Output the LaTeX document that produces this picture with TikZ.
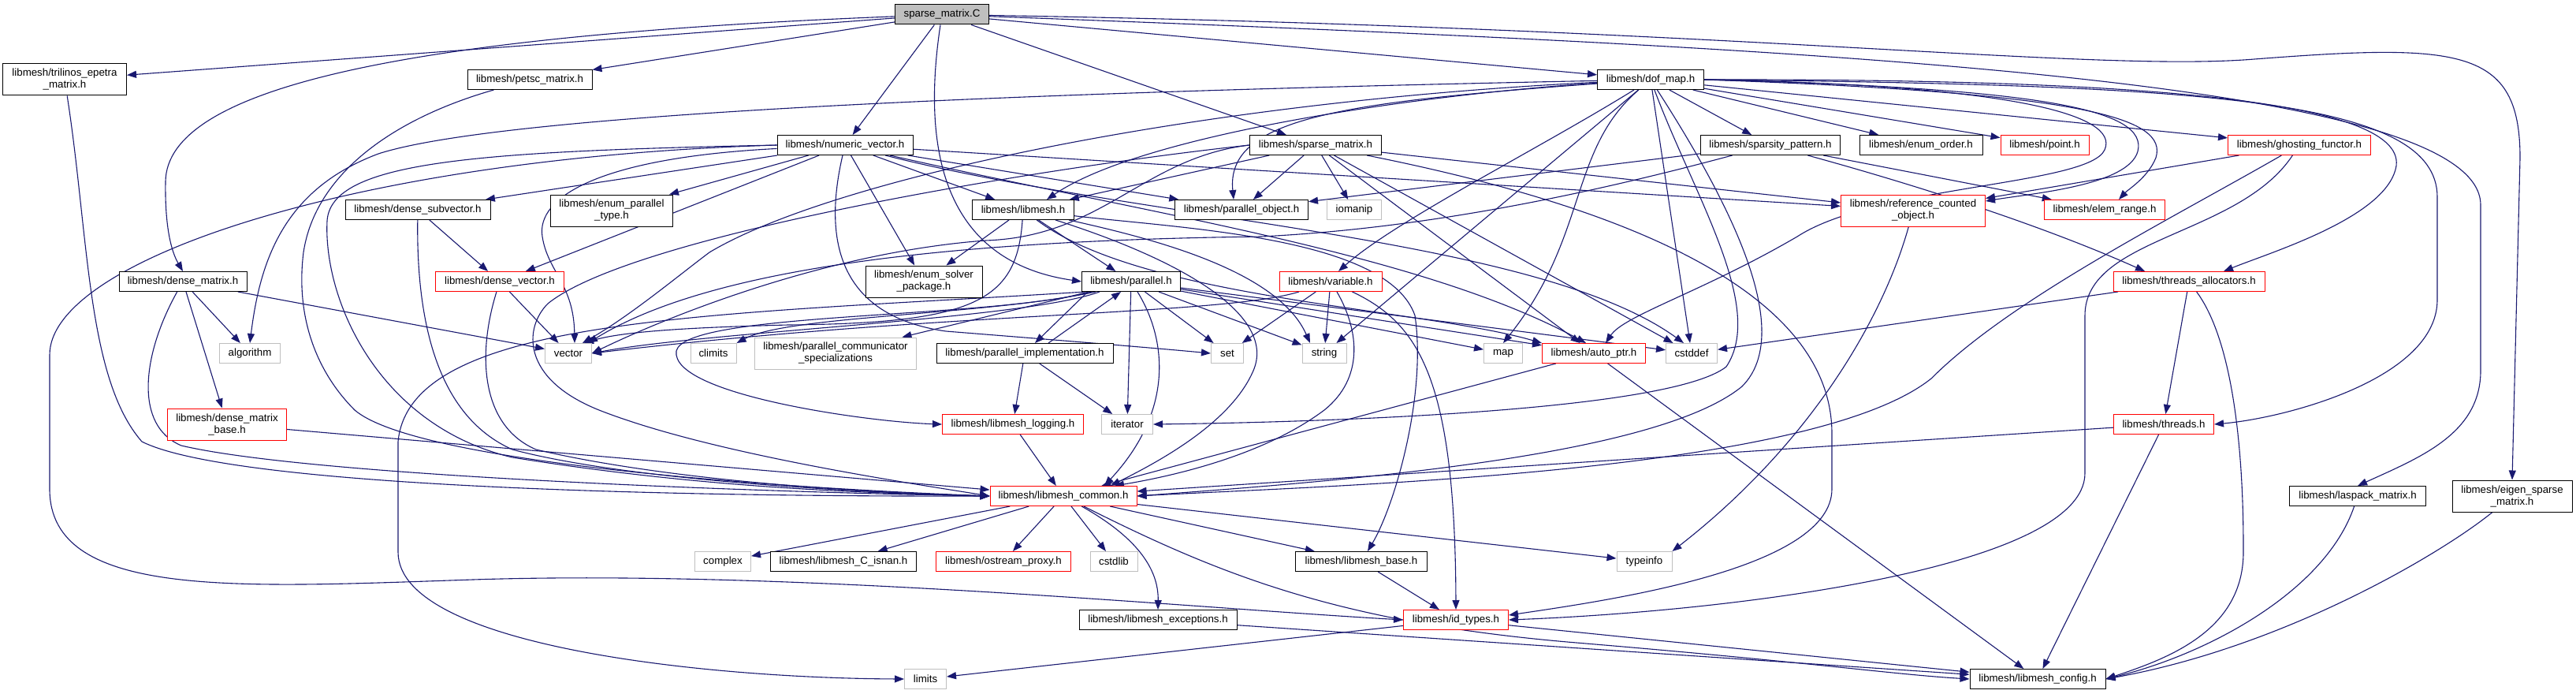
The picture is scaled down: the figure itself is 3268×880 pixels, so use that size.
\documentclass[tikz,border=0pt]{standalone}
\usepackage{fontspec}
\usetikzlibrary{arrows.meta}
\newfontfamily\gfont{Liberation Sans}
\definecolor{edgecol}{HTML}{191970}
\definecolor{graycol}{HTML}{BFBFBF}
\definecolor{redcol}{HTML}{FF0000}
\pgfdeclarelayer{paper}
\pgfdeclarelayer{edges}
\pgfsetlayers{paper,edges,main}
\tikzset{
  box/.style={draw=black, fill=white, line width=1pt, minimum height=25pt, inner sep=1pt, align=center, font=\gfont\fontsize{13.3pt}{15pt}\selectfont},
  rbox/.style={box, draw=redcol},
  gbox/.style={box, draw=graycol},
  rootbox/.style={box, fill=graycol},
  tall/.style={minimum height=40pt},
  e/.style={draw=edgecol, line width=1.1pt, -{Triangle[length=12pt,width=9pt]}},
}
\begin{document}
\begin{tikzpicture}[x=1pt,y=-1pt]
\begin{pgfonlayer}{paper}
\useasboundingbox[fill=white] (0,0) rectangle (3268,880);
\end{pgfonlayer}
% row 0
\node[rootbox, minimum width=119pt] (root) at (1195,18.5) {sparse\_matrix.C};
% row 1
\node[box, tall, minimum width=157pt] (tri) at (82,101) {libmesh/trilinos\_epetra\\\_matrix.h};
\node[box, minimum width=158pt] (petsc) at (672,101) {libmesh/petsc\_matrix.h};
\node[box, minimum width=135pt] (dof) at (2094,101) {libmesh/dof\_map.h};
% row 2
\node[box, minimum width=172pt] (nv) at (1072,184) {libmesh/numeric\_vector.h};
\node[box, minimum width=167pt] (smh) at (1669,184) {libmesh/sparse\_matrix.h};
\node[box, minimum width=177pt] (sp) at (2246,184) {libmesh/sparsity\_pattern.h};
\node[box, minimum width=156pt] (eo) at (2437,184) {libmesh/enum\_order.h};
\node[rbox, minimum width=112pt] (pt) at (2594,184) {libmesh/point.h};
\node[rbox, minimum width=181pt] (gf) at (2917,184) {libmesh/ghosting\_functor.h};
% row 3
\node[box, minimum width=184pt] (dsv) at (530,266) {libmesh/dense\_subvector.h};
\node[box, tall, minimum width=155pt] (ept) at (776,267) {libmesh/enum\_parallel\\\_type.h};
\node[box, minimum width=129pt] (lm) at (1298,266) {libmesh/libmesh.h};
\node[box, minimum width=169pt] (po) at (1575,266) {libmesh/parallel\_object.h};
\node[gbox, minimum width=69pt] (iom) at (1718,266) {iomanip};
\node[rbox, tall, minimum width=183pt] (rco) at (2427,267) {libmesh/reference\_counted\\\_object.h};
\node[rbox, minimum width=153pt] (er) at (2670,266) {libmesh/elem\_range.h};
% row 4
\node[box, minimum width=162pt] (dm) at (232,357) {libmesh/dense\_matrix.h};
\node[rbox, minimum width=163pt] (dv) at (634,357) {libmesh/dense\_vector.h};
\node[box, tall, minimum width=148pt] (esp) at (1172,357) {libmesh/enum\_solver\\\_package.h};
\node[box, minimum width=125pt] (par) at (1435,357) {libmesh/parallel.h};
\node[rbox, minimum width=130pt] (var) at (1688,357) {libmesh/variable.h};
\node[rbox, minimum width=192pt] (ta) at (2777,357) {libmesh/threads\_allocators.h};
% row 5
\node[gbox, minimum width=77pt] (alg) at (317,448) {algorithm};
\node[gbox, minimum width=59pt] (vec) at (721,448) {vector};
\node[gbox, minimum width=58pt] (clim) at (905,448) {climits};
\node[gbox, tall, minimum width=205pt] (pcs) at (1060,448) {libmesh/parallel\_communicator\\\_specializations};
\node[box, minimum width=224pt] (pimpl) at (1300,448) {libmesh/parallel\_implementation.h};
\node[gbox, minimum width=41pt] (set) at (1557,448) {set};
\node[gbox, minimum width=56pt] (str) at (1680,448) {string};
\node[gbox, minimum width=49pt] (map) at (1907,448) {map};
\node[rbox, minimum width=131pt] (ap) at (2022,448) {libmesh/auto\_ptr.h};
\node[gbox, minimum width=65pt] (cst) at (2146,448) {cstddef};
% row 6
\node[rbox, tall, minimum width=151pt] (dmb) at (288,538) {libmesh/dense\_matrix\\\_base.h};
\node[rbox, minimum width=179pt] (log) at (1285,538) {libmesh/libmesh\_logging.h};
\node[gbox, minimum width=65pt] (it) at (1430,538) {iterator};
\node[rbox, minimum width=127pt] (thr) at (2745,538) {libmesh/threads.h};
% row 7
\node[rbox, minimum width=186pt] (lc) at (1349,629) {libmesh/libmesh\_common.h};
\node[box, minimum width=173pt] (lasp) at (2991,629) {libmesh/laspack\_matrix.h};
\node[box, tall, minimum width=152pt] (eig) at (3187,629) {libmesh/eigen\_sparse\\\_matrix.h};
% row 8
\node[gbox, minimum width=71pt] (cx) at (917,712) {complex};
\node[box, minimum width=185pt] (isnan) at (1070,712) {libmesh/libmesh\_C\_isnan.h};
\node[rbox, minimum width=171pt] (osp) at (1273,712) {libmesh/ostream\_proxy.h};
\node[gbox, minimum width=60pt] (cstdlib) at (1413,712) {cstdlib};
\node[box, minimum width=167pt] (lb) at (1727,712) {libmesh/libmesh\_base.h};
\node[gbox, minimum width=70pt] (ti) at (2086,712) {typeinfo};
% row 9
\node[box, minimum width=200pt] (exc) at (1469,786) {libmesh/libmesh\_exceptions.h};
\node[rbox, minimum width=133pt] (id) at (1847,786) {libmesh/id\_types.h};
% row 10
\node[gbox, minimum width=53pt] (lim) at (1174,861) {limits};
\node[box, minimum width=172pt] (cfg) at (2585,861) {libmesh/libmesh\_config.h};

\begin{pgfonlayer}{edges}
% ---- root
\draw[e] (root) -- (tri);
\draw[e] (root) -- (petsc);
\draw[e] (root) .. controls (520,45) and (212,110) .. (210,230) .. controls (209,290) and (218,320) .. (dm.north);
\draw[e] (root) -- (nv);
\draw[e] (root) .. controls (1172,170) and (1185,330) .. (par.west);
\draw[e] (root) -- (smh);
\draw[e] (root) -- (dof);
\draw[e] (root) .. controls (2300,60) and (3147,100) .. (3147,260) -- (3147,470) .. controls (3147,550) and (3070,580) .. (lasp.north);
\draw[e] (root) .. controls (2200,35) and (2650,92) .. (2860,75) .. controls (3120,55) and (3197,60) .. (3197,200) -- (eig.north);
% ---- dof_map
\draw[e] (dof) .. controls (1400,115) and (650,140) .. (480,195) .. controls (360,240) and (330,330) .. (alg.north);
\draw[e] (dof) .. controls (1500,130) and (1050,230) .. (900,320) .. controls (860,350) and (800,400) .. ([xshift=18pt]vec.north);
\draw[e] (dof) .. controls (1800,120) and (1450,170) .. ([xshift=30pt]lm.north);
\draw[e] (dof) .. controls (1700,130) and (1555,150) .. ([xshift=-10pt]po.north);
\draw[e] (dof) .. controls (1950,190) and (1770,280) .. ([xshift=10pt]var.north);
\draw[e] (dof) -- (str);
\draw[e] (dof) .. controls (1990,190) and (2015,300) .. (map.north);
\draw[e] (dof.east) .. controls (2550,108) and (2690,145) .. (2670,190) .. controls (2650,235) and (2380,235) .. (2280,300) .. controls (2160,370) and (2060,400) .. ([xshift=15pt]ap.north);
\draw[e] (dof) -- (cst);
\draw[e] (dof) .. controls (2150,250) and (2240,390) .. (2190,465) .. controls (2120,520) and (1700,535) .. (it.east);
\draw[e] (dof) .. controls (2190,250) and (2280,420) .. (2210,490) .. controls (2100,580) and (1700,610) .. (lc.east);
\draw[e] (dof) -- (sp);
\draw[e] (dof) -- (eo);
\draw[e] (dof) -- (pt);
\draw[e] (dof) -- (gf);
\draw[e] (dof.east) .. controls (2600,112) and (2725,140) .. (2712,192) .. controls (2700,235) and (2580,245) .. ([yshift=12pt]rco.east);
\draw[e] (dof.east) .. controls (2650,118) and (2750,150) .. (2735,200) .. controls (2725,225) and (2700,240) .. ([xshift=18pt]er.north);
\draw[e] (dof.east) .. controls (2700,100) and (3050,125) .. (3040,210) .. controls (3030,275) and (2880,320) .. ([xshift=44pt]ta.north);
\draw[e] (dof.east) .. controls (2800,108) and (3092,125) .. (3092,250) -- (3092,380) .. controls (3092,480) and (2900,530) .. (thr.east);
% ---- sparsity_pattern
\draw[e] (sp) -- (po);
\draw[e] (sp) -- (er);
\draw[e] (sp) .. controls (2450,240) and (2600,290) .. ([xshift=-56pt]ta.north);
\draw[e] (sp) .. controls (2000,250) and (1800,290) .. (1600,300) .. controls (1200,305) and (900,340) .. ([xshift=25pt]vec.north);
% ---- numeric_vector
\draw[e] (nv.west) .. controls (450,200) and (63,330) .. (63,450) -- (63,620) .. controls (63,760) and (300,745) .. (600,735) .. controls (1000,722) and (1500,770) .. (id.west);
\draw[e] (nv) -- (dsv);
\draw[e] (nv) -- (ept);
\draw[e] (nv) -- (dv);
\draw[e] (nv) .. controls (760,200) and (680,250) .. (688,300) .. controls (695,345) and (728,360) .. ([xshift=8pt]vec.north);
\draw[e] (nv.west) .. controls (600,192) and (420,205) .. (415,280) .. controls (410,380) and (480,540) .. (650,580) .. controls (900,620) and (1100,625) .. (lc.west);
\draw[e] (nv) .. controls (1045,300) and (1060,400) .. (1200,420) .. controls (1350,432) and (1450,440) .. (set.west);
\draw[e] (nv) -- (esp);
\draw[e] (nv) -- (lm);
\draw[e] (nv) -- (po);
\draw[e] (nv) -- (rco);
\draw[e] (nv) .. controls (1450,270) and (1800,320) .. ([xshift=-10pt]ap.north);
\draw[e] (nv) .. controls (1450,280) and (1950,300) .. ([xshift=-10pt]cst.north);
% ---- sparse_matrix.h
\draw[e] (smh) -- (lm);
\draw[e] (smh) -- (po);
\draw[e] (smh) -- (iom);
\draw[e] (smh) -- (cst);
\draw[e] (smh) -- (ap);
\draw[e] (smh) -- (rco);
\draw[e] (smh) .. controls (2000,250) and (2324,350) .. (2324,550) -- (2324,620) .. controls (2324,720) and (2050,760) .. ([yshift=6pt]id.east);
\draw[e] (smh.west) .. controls (1300,215) and (800,300) .. (695,385) .. controls (665,415) and (660,480) .. (760,520) .. controls (900,575) and (1150,612) .. (lc.west);
\draw[e] (smh.west) .. controls (1450,200) and (1400,300) .. (1250,305) .. controls (1050,320) and (850,400) .. (vec.east);
% ---- libmesh.h
\draw[e] (lm) -- (esp);
\draw[e] (lm) .. controls (1290,380) and (1240,410) .. (1000,412) .. controls (880,415) and (790,420) .. ([xshift=20pt]vec.north);
\draw[e] (lm) -- (par);
\draw[e] (lm) .. controls (1500,330) and (1620,400) .. (1590,470) .. controls (1560,540) and (1460,590) .. ([xshift=60pt]lc.north);
\draw[e] (lm) .. controls (1500,290) and (1760,300) .. (1795,400) .. controls (1810,500) and (1770,640) .. ([xshift=8pt]lb.north);
\draw[e] (lm) .. controls (1450,380) and (1800,390) .. (ap.north west);
\draw[e] (lm) .. controls (1450,300) and (1620,340) .. ([xshift=-18pt]str.north);
% ---- parallel.h
\draw[e] ([xshift=-40pt]par.south) .. controls (1300,405) and (900,420) .. (vec.east);
\draw[e] ([xshift=-45pt]par.south) .. controls (1250,400) and (1000,400) .. (clim.north east);
\draw[e] (par) -- (pcs);
\draw[e] ([xshift=-55pt]par.south) -- ([xshift=13pt]pimpl.north);
\draw[e] ([xshift=30pt]pimpl.north) -- ([xshift=-13pt]par.south);
\draw[e] (par) -- (set);
\draw[e] (par) -- (str);
\draw[e] (par) -- (map);
\draw[e] (par) -- (ap);
\draw[e] (par) -- (cst);
\draw[e] (par) -- (it);
\draw[e] (par) .. controls (1480,430) and (1490,520) .. ([xshift=52pt]lc.north);
\draw[e] ([xshift=-50pt]par.south) .. controls (1250,405) and (870,395) .. (858,445) .. controls (850,500) and (1100,535) .. (log.west);
\draw[e] ([xshift=-58pt]par.south) .. controls (900,400) and (520,400) .. (505,560) -- (505,700) .. controls (505,820) and (900,860) .. (lim.west);
% ---- parallel_implementation.h
\draw[e] (pimpl) -- (log);
\draw[e] (pimpl) -- (it);
% ---- variable.h
\draw[e] ([xshift=-40pt]var.south) .. controls (1550,400) and (1200,395) .. (vec.east);
\draw[e] (var) -- (set);
\draw[e] (var) -- (str);
\draw[e] ([xshift=8pt]var.south) .. controls (1725,420) and (1730,480) .. (1680,520) .. controls (1600,580) and (1480,605) .. ([xshift=65pt]lc.north);
\draw[e] (var) .. controls (1800,410) and (1846,480) .. (id.north);
% ---- misc
\draw[e] (log) -- (lc);
\draw[e] (ap) -- (lc);
\draw[e] (ap) -- (cfg);
\draw[e] (rco) .. controls (2390,400) and (2300,560) .. (ti.north east);
\draw[e] (ta) -- (cst);
\draw[e] (ta) -- (thr);
\draw[e] (ta) .. controls (2846,450) and (2846,650) .. (2846,700) .. controls (2846,800) and (2750,835) .. (cfg.east);
\draw[e] (thr) -- (cfg);
\draw[e] (thr) -- (lc);
\draw[e] (gf) -- (rco);
\draw[e] (gf) .. controls (2750,280) and (2550,380) .. (2450,480) .. controls (2300,600) and (1700,615) .. (lc.east);
\draw[e] (gf) .. controls (2840,300) and (2645,300) .. (2645,400) -- (2645,600) .. controls (2645,720) and (2200,775) .. (id.east);
\draw[e] (tri) .. controls (113,300) and (110,480) .. (180,560) .. controls (300,620) and (900,630) .. (lc.west);
\draw[e] (petsc) .. controls (500,150) and (400,220) .. (385,320) .. controls (375,400) and (400,470) .. (450,520) .. controls (520,580) and (900,615) .. (lc.west);
\draw[e] (dm) -- (alg);
\draw[e] (dm) -- (vec);
\draw[e] (dm) -- (dmb);
\draw[e] (dm) .. controls (180,450) and (170,540) .. (230,565) .. controls (400,605) and (1000,625) .. (lc.west);
\draw[e] (dmb) -- (lc);
\draw[e] (dsv) -- (dv);
\draw[e] (dsv) .. controls (528,420) and (560,530) .. (650,570) .. controls (800,610) and (1100,625) .. (lc.west);
\draw[e] (dv) -- (vec);
\draw[e] (dv) .. controls (605,450) and (610,540) .. (680,570) .. controls (850,610) and (1100,625) .. (lc.west);
% ---- libmesh_common.h
\draw[e] (lc) -- (cx);
\draw[e] (lc) -- (isnan);
\draw[e] (lc) -- (osp);
\draw[e] (lc) -- (cstdlib);
\draw[e] (lc) .. controls (1440,680) and (1470,720) .. (exc.north);
\draw[e] (lc) -- (lb);
\draw[e] (lc) -- (ti);
\draw[e] (lc) .. controls (1550,730) and (1700,790) .. (2000,815) .. controls (2300,840) and (2400,855) .. (cfg.west);
\draw[e] (lb) -- (id);
\draw[e] (exc) -- (cfg);
\draw[e] (id) -- (lim);
\draw[e] (id) -- (cfg);
\draw[e] (lasp) .. controls (2950,750) and (2800,830) .. (cfg.east);
\draw[e] (eig) .. controls (3100,700) and (2900,820) .. (cfg.east);
\end{pgfonlayer}
\end{tikzpicture}
\end{document}
